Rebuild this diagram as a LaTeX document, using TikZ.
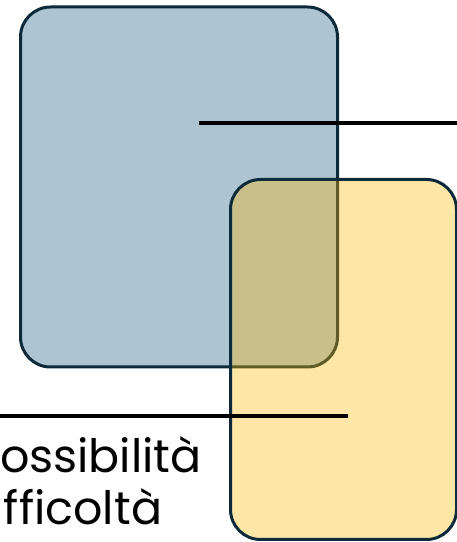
\documentclass[tikz,border=0pt]{standalone}
\usepackage{fontspec}
\setmainfont{Poppins}
\usepackage{tikz}
\usetikzlibrary{positioning}

\definecolor{boxnavy}{RGB}{13,42,58}
\definecolor{boxblue}{RGB}{173,197,210}
\definecolor{boxamber}{RGB}{251,183,0}

\tikzset{
  box/.style={draw=boxnavy, line width=3pt, rounded corners=30pt, inner sep=0pt, outer sep=0pt},
  leader/.style={draw=black, line width=3.5pt},
  label/.style={inner sep=0pt, outer sep=0pt, anchor=base west, font=\fontsize{46}{55}\selectfont}
}

\begin{document}
\begin{tikzpicture}[x=1pt, y=1pt]
            \useasboundingbox (0,0) rectangle (457,542);
            \node[box, fill=boxblue, minimum width=317pt, minimum height=360pt] (Blue) at (179,355) {};
            \node[box, fill=boxamber, fill opacity=0.35, minimum width=226pt, minimum height=360pt] (Yellow) at (343.5,182.5) {};
            \coordinate (TopStart) at (199,419);
            \coordinate (TopEnd) at (457,419);
            \coordinate (LowStart) at (0,126);
            \coordinate (LowEnd) at (348,126);
            \draw[leader] (TopStart) -- (TopEnd);
            \draw[leader] (LowStart) -- (LowEnd);
            \node[label] (Possib) at (0,70) {ossibilità};
            \node[label] (Diffic) at (4,17) {fficoltà};
        \end{tikzpicture}
\end{document}
